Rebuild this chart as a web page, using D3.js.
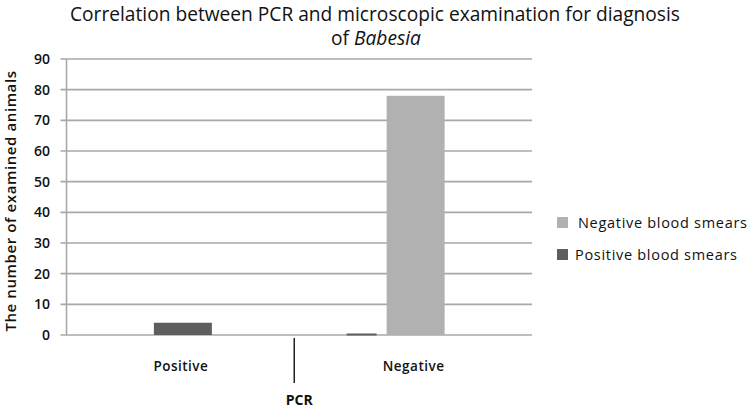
<!DOCTYPE html>
<html>
<head>
<meta charset="utf-8">
<script src="https://cdn.jsdelivr.net/npm/d3@7"></script>
<style>
  html, body { margin: 0; padding: 0; background: #fff; }
  svg { display: block; }
  text { font-family: "Open Sans", "DejaVu Sans", sans-serif; fill: #111; }
</style>
</head>
<body>
<svg id="chart" width="750" height="409"></svg>
<script>
// ---- data ----
const categories = ["Positive", "Negative"];          // PCR result
const seriesNames = ["Positive blood smears", "Negative blood smears"];
const positiveSmears = [4, 0];
const negativeSmears = [0, 78];
const yTicks = [0, 10, 20, 30, 40, 50, 60, 70, 80, 90];
const titleLine1 = "Correlation between PCR and microscopic examination for diagnosis";
const yTitle = "The number of examined animals";
const xTitle = "PCR";

const colors = { "Positive blood smears": "#5e5e5e", "Negative blood smears": "#b1b1b1" };

const svg = d3.select("#chart");
const plot = { left: 66.5, right: 532, top: 59, bottom: 335 };

const x = d3.scaleBand().domain(categories).range([plot.left, plot.right]).padding(0);
const y = d3.scaleLinear().domain([0, 90]).range([plot.bottom, plot.top]);
const barW = 58;

// fit helper: scales font size so text reaches a target width
function fit(sel, w) {
  const n = sel.node();
  const cur = n.getComputedTextLength();
  const fs = parseFloat(sel.style("font-size"));
  sel.style("font-size", (fs * w / cur).toFixed(2) + "px");
}

// gridlines (with small tick extension to the left)
svg.append("g").selectAll("line").data(yTicks).join("line")
  .attr("x1", plot.left - 6).attr("x2", plot.right)
  .attr("y1", d => y(d)).attr("y2", d => y(d))
  .attr("stroke", "#a8a8a8").attr("stroke-width", 1.6);

// y axis line
svg.append("line")
  .attr("x1", plot.left).attr("x2", plot.left)
  .attr("y1", y(90)).attr("y2", y(0))
  .attr("stroke", "#a8a8a8").attr("stroke-width", 1.6);

// y tick labels
svg.append("g").selectAll("text").data(yTicks).join("text")
  .attr("x", 50).attr("y", d => y(d))
  .attr("dy", "0.36em")
  .attr("text-anchor", "end")
  .style("font-size", "14px").style("font-weight", "600")
  .text(d => d);

// bars
const rows = categories.map((c, i) => ({ cat: c, pos: positiveSmears[i], neg: negativeSmears[i] }));

// negative smears (light)
svg.append("g").selectAll("rect").data(rows.filter(r => r.neg > 0)).join("rect")
  .attr("x", d => x(d.cat) + x.bandwidth() / 2 - barW / 2)
  .attr("width", barW)
  .attr("y", d => y(d.neg))
  .attr("height", d => y(0) - y(d.neg))
  .attr("fill", colors["Negative blood smears"]);

// positive smears (dark)
svg.append("g").selectAll("rect").data(rows.filter(r => r.pos > 0)).join("rect")
  .attr("x", d => x(d.cat) + x.bandwidth() / 2 - barW / 2)
  .attr("width", barW)
  .attr("y", d => y(d.pos))
  .attr("height", d => y(0) - y(d.pos))
  .attr("fill", colors["Positive blood smears"]);

// zero-valued dark series drawn as flat floor (3D perspective, shifted back)
svg.append("g").selectAll("line").data(rows.filter(r => r.pos === 0)).join("line")
  .attr("x1", d => x(d.cat) + x.bandwidth() / 2 - barW / 2 - 40)
  .attr("x2", d => x(d.cat) + x.bandwidth() / 2 - barW / 2 - 10)
  .attr("y1", y(0) - 0.5).attr("y2", y(0) - 0.5)
  .attr("stroke", colors["Positive blood smears"]).attr("stroke-width", 2);

// category labels
svg.append("g").selectAll("text").data(categories).join("text")
  .attr("x", d => x(d) + x.bandwidth() / 2 - 2)
  .attr("y", 371)
  .attr("text-anchor", "middle")
  .style("font-size", "13.5px").style("font-weight", "600")
  .style("letter-spacing", "0.5px")
  .text(d => d);

// PCR divider tick and title
const midX = (x(categories[0]) + x.bandwidth() + x(categories[1])) / 2 - 5;
svg.append("line")
  .attr("x1", midX).attr("x2", midX).attr("y1", 338).attr("y2", 383)
  .attr("stroke", "#222").attr("stroke-width", 1.5);
svg.append("text")
  .attr("x", midX + 5).attr("y", 405)
  .attr("text-anchor", "middle")
  .style("font-size", "14px").style("font-weight", "700")
  .text(xTitle);

// y title
svg.append("text")
  .attr("transform", `translate(16,${(plot.top + plot.bottom) / 2 + 4}) rotate(-90)`)
  .attr("text-anchor", "middle")
  .style("font-size", "15px").style("font-weight", "600")
  .style("letter-spacing", "0.6px")
  .text(yTitle);

// title
const t1 = svg.append("text")
  .attr("x", 375).attr("y", 21)
  .attr("text-anchor", "middle")
  .style("font-size", "16px")
  .text(titleLine1);
fit(t1, 610);
const t2 = svg.append("text")
  .attr("x", 376).attr("y", 45)
  .attr("text-anchor", "middle")
  .style("font-size", t1.style("font-size"));
t2.append("tspan").text("of ");
t2.append("tspan").style("font-style", "italic").text("Babesia");

// legend
const legendOrder = ["Negative blood smears", "Positive blood smears"];
const lg = svg.append("g").selectAll("g").data(legendOrder).join("g")
  .attr("transform", (d, i) => `translate(557,${217 + i * 32})`);
lg.append("rect").attr("width", 11).attr("height", 11).attr("fill", d => colors[d]);
lg.append("text")
  .attr("x", (d, i) => i === 0 ? 21 : 18).attr("y", 11)
  .style("font-size", "14.5px")
  .style("letter-spacing", "0.7px")
  .text(d => d);
</script>
</body>
</html>
